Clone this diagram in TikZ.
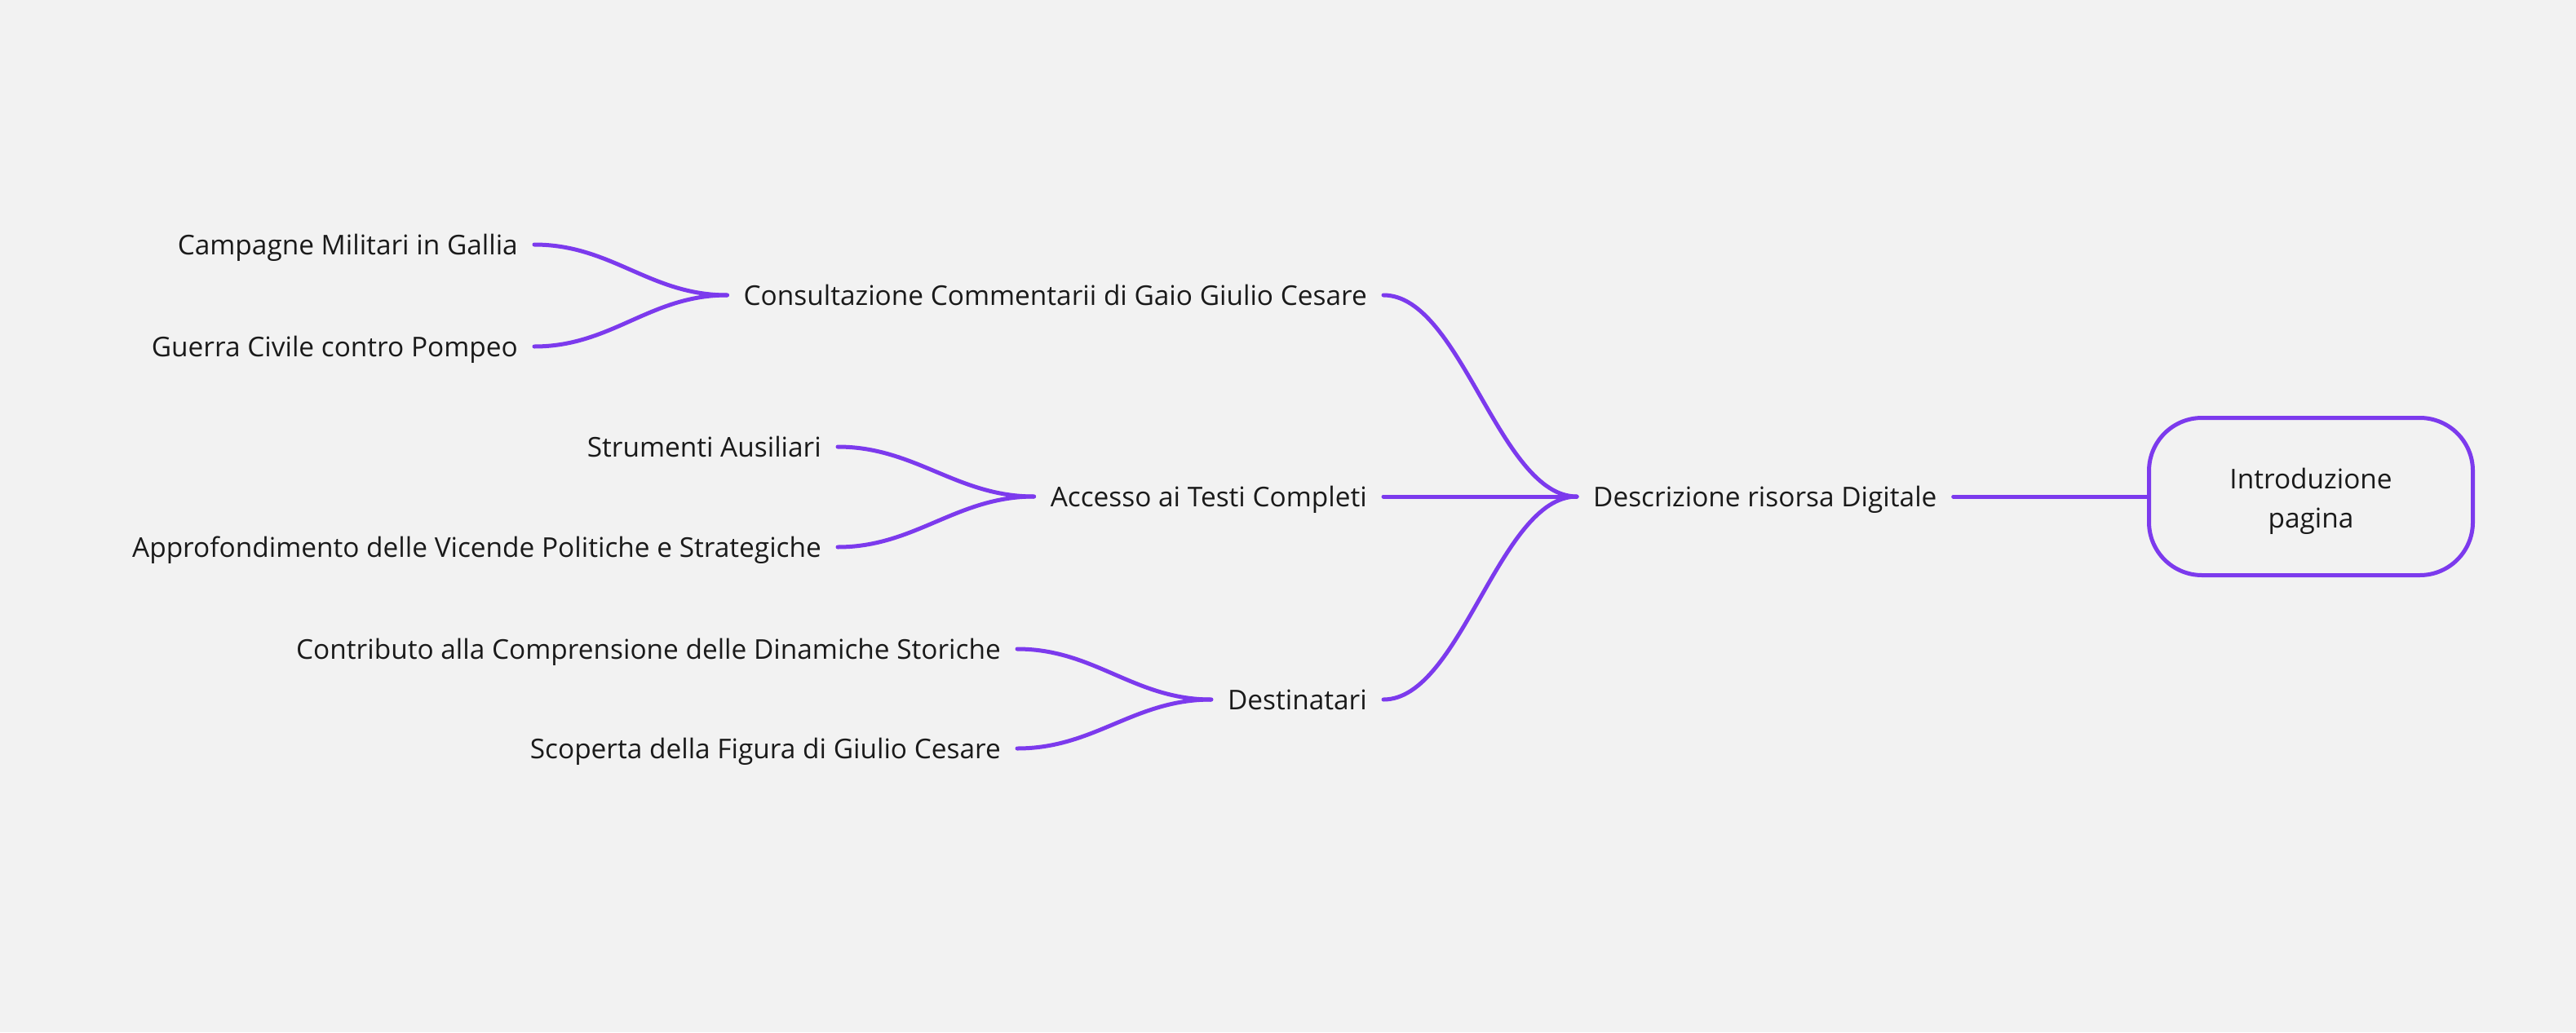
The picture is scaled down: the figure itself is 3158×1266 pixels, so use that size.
\documentclass[tikz,border=0pt]{standalone}
\usepackage{fontspec}
\setmainfont{Open Sans}
\definecolor{bgc}{HTML}{F2F2F2}
\definecolor{linec}{HTML}{7C3AED}
\definecolor{txtc}{HTML}{1A1A1A}
\begin{document}
\begin{tikzpicture}[x=1pt,y=-1pt,
  lbl/.style={inner xsep=20pt, inner ysep=0pt, text height=24pt, text depth=0pt,
    font=\fontsize{33.4}{45}\selectfont, text=txtc},
  conn/.style={draw=linec, line width=5pt, line cap=round},
  rootbox/.style={draw=linec, line width=5pt, rounded corners=65pt, minimum width=397pt,
    minimum height=193pt, align=center, font=\fontsize{33.4}{48}\selectfont, text=txtc}]
\fill[bgc] (0,0) rectangle (3158,1266);
\useasboundingbox (0,0) rectangle (3158,1266);

\node[rootbox] (root) at (2833,609) {\rule{0pt}{37pt}Introduzione\\pagina};
\node[lbl, anchor=west] (desc) at (1933,609) {Descrizione risorsa Digitale};

\node[lbl, anchor=east] (cons) at (1696,362) {Consultazione Commentarii di Gaio Giulio Cesare};
\node[lbl, anchor=east] (acc) at (1696,609) {Accesso ai Testi Completi};
\node[lbl, anchor=east] (dest) at (1696,858) {Destinatari};

\node[lbl, anchor=east] (camp) at (655,300) {Campagne Militari in Gallia};
\node[lbl, anchor=east] (guer) at (655,425) {Guerra Civile contro Pompeo};
\node[lbl, anchor=east] (stru) at (1027,548) {Strumenti Ausiliari};
\node[lbl, anchor=east] (appr) at (1027,671) {Approfondimento delle Vicende Politiche e Strategiche};
\node[lbl, anchor=east] (cont) at (1247,796) {Contributo alla Comprensione delle Dinamiche Storiche};
\node[lbl, anchor=east] (scop) at (1247,918) {Scoperta della Figura di Giulio Cesare};

\draw[conn] (desc.east) -- (root.west);
\draw[conn] (cons.east) .. controls +(95,0) and +(-95,0) .. (desc.west);
\draw[conn] (acc.east) -- (desc.west);
\draw[conn] (dest.east) .. controls +(95,0) and +(-95,0) .. (desc.west);

\draw[conn] (camp.east) .. controls +(95,0) and +(-95,0) .. (cons.west);
\draw[conn] (guer.east) .. controls +(95,0) and +(-95,0) .. (cons.west);
\draw[conn] (stru.east) .. controls +(95,0) and +(-95,0) .. (acc.west);
\draw[conn] (appr.east) .. controls +(95,0) and +(-95,0) .. (acc.west);
\draw[conn] (cont.east) .. controls +(95,0) and +(-95,0) .. (dest.west);
\draw[conn] (scop.east) .. controls +(95,0) and +(-95,0) .. (dest.west);
\end{tikzpicture}
\end{document}
